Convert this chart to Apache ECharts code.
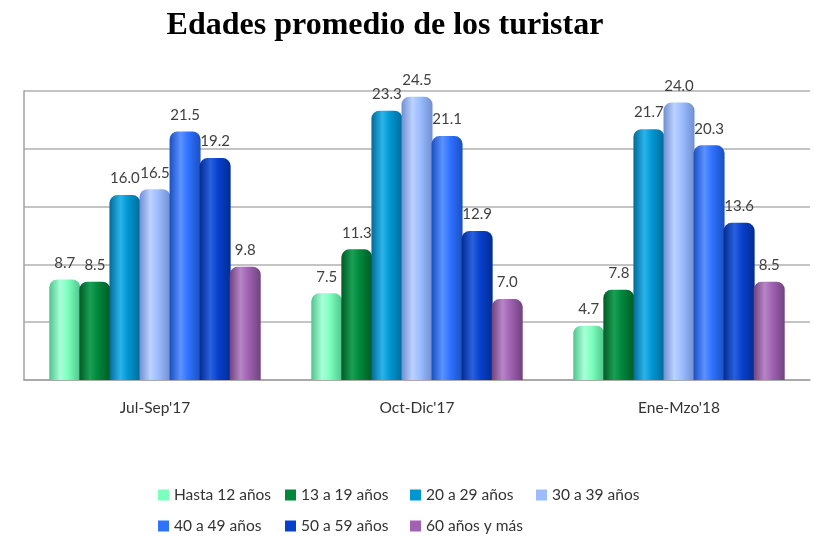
<!DOCTYPE html>
<html>
<head>
<meta charset="utf-8">
<script src="https://cdn.jsdelivr.net/npm/echarts@6/dist/echarts.min.js"></script>
<style>
  html, body { margin: 0; padding: 0; background: #fff; }
  #main { width: 814px; height: 537px; }
</style>
</head>
<body>
<div id="main"></div>
<script>
// datos
var categories = ["Jul-Sep'17", "Oct-Dic'17", "Ene-Mzo'18"];
var seriesNames = ['Hasta 12 años', '13 a 19 años', '20 a 29 años', '30 a 39 años', '40 a 49 años', '50 a 59 años', '60 años y más'];
var hasta12 = [8.7, 7.5, 4.7];
var de13a19 = [8.5, 11.3, 7.8];
var de20a29 = [16.0, 23.3, 21.7];
var de30a39 = [16.5, 24.5, 24.0];
var de40a49 = [21.5, 21.1, 20.3];
var de50a59 = [19.2, 12.9, 13.6];
var de60mas = [9.8, 7.0, 8.5];

var values = [hasta12, de13a19, de20a29, de30a39, de40a49, de50a59, de60mas];
var colors = ['#7dffbe', '#00873c', '#0096d2', '#9cbcff', '#2f72ff', '#0740cc', '#a062b2'];
var darks = ['#4fc48c', '#005a26', '#006a98', '#6f8fd0', '#1a4fc0', '#022c92', '#70427e'];
var lights = ['#a8ffd8', '#1aa055', '#2ab4ea', '#bcd2ff', '#5a92ff', '#2a60e0', '#b884c8'];

// posiciones de la leyenda (dos filas, columnas fijas)
var legendLeft = [158, 285, 410, 536, 158, 285, 410];
var legendTop = [487, 487, 487, 487, 518, 518, 518];

var chart = echarts.init(document.getElementById('main'));

var series = seriesNames.map(function (name, i) {
  return {
    name: name,
    type: 'bar',
    data: values[i],
    barWidth: 31,
    barGap: '-3%',
    itemStyle: {
      borderRadius: [8, 8, 0, 0],
      color: {
        type: 'linear', x: 0, y: 0, x2: 1, y2: 0,
        colorStops: [
          { offset: 0, color: darks[i] },
          { offset: 0.35, color: lights[i] },
          { offset: 0.6, color: colors[i] },
          { offset: 1, color: darks[i] }
        ]
      }
    },
    label: {
      show: true,
      position: 'top',
      distance: 9,
      color: '#404040',
      fontFamily: 'Lato',
      fontSize: 15,
      formatter: function (p) { return p.value.toFixed(1); }
    }
  };
});

var legends = seriesNames.map(function (name, i) {
  return {
    data: [{ name: name, itemStyle: { color: colors[i] } }],
    left: legendLeft[i],
    top: legendTop[i],
    padding: 0,
    itemWidth: 11,
    itemHeight: 11,
    itemGap: 0,
    icon: 'rect',
    textStyle: {
      fontFamily: 'Lato',
      fontSize: 15.5,
      color: '#333'
    }
  };
});

chart.setOption({
  animation: false,
  color: colors,
  title: {
    text: 'Edades promedio de los turistar',
    left: 380,
    textAlign: 'center',
    top: 5,
    textStyle: {
      fontFamily: 'Liberation Serif',
      fontWeight: 'bold',
      fontSize: 32,
      color: '#000'
    }
  },
  legend: legends,
  grid: {
    left: 24,
    right: 4,
    top: 91,
    bottom: 157
  },
  xAxis: {
    type: 'category',
    data: categories,
    axisTick: { show: false },
    axisLine: { lineStyle: { color: '#a0a0a0', width: 1.5 } },
    axisLabel: {
      color: '#333',
      fontFamily: 'Lato',
      fontSize: 15.5,
      margin: 20
    }
  },
  yAxis: {
    type: 'value',
    min: 0,
    max: 25,
    interval: 5,
    axisLabel: { show: false },
    axisLine: { show: true, lineStyle: { color: '#a0a0a0', width: 1.5 } },
    splitLine: { lineStyle: { color: '#b0b0b0', width: 1.5 } }
  },
  series: series
});
</script>
</body>
</html>
